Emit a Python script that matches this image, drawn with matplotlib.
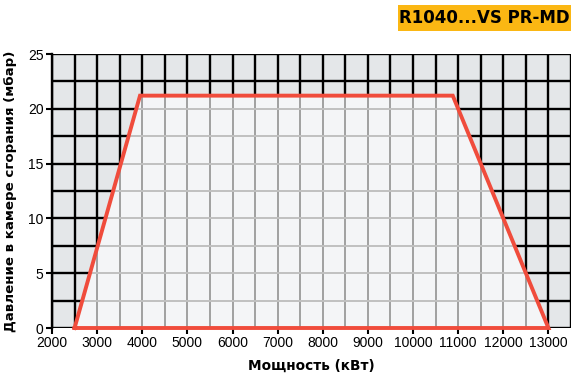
import numpy as np
import matplotlib.pyplot as plt
from matplotlib.patches import Polygon, Rectangle

# working field of the burner: power (kW) vs combustion chamber pressure (mbar)
power_kw = [2500, 3950, 10880, 13000]
pressure_mbar = [0, 21.2, 21.2, 0]

x_ticks = list(range(2000, 13001, 1000))
y_ticks = [0, 5, 10, 15, 20, 25]
title = "R1040...VS PR-MD"
xlabel = "Мощность (кВт)"
ylabel = "Давление в камере сгорания (мбар)"

fig = plt.figure(figsize=(5.71, 3.76), dpi=100)
ax = fig.add_axes([52 / 571, 48 / 376, (571 - 52) / 571, (328 - 54) / 376])
ax.set_facecolor("#e4e7e9")
ax.set_xlim(2000, 13500)
ax.set_ylim(0, 25)

xg = np.arange(2000, 13501, 500)
yg = np.arange(0, 25.1, 2.5)

# black grid over the whole area
for x in xg:
    ax.axvline(x, color="black", lw=1.7, zorder=1)
for y in yg:
    ax.axhline(y, color="black", lw=1.7, zorder=1)

# working field: light fill with grey grid clipped to it
poly = Polygon(list(zip(power_kw, pressure_mbar)), closed=True,
               facecolor="#f4f5f7", edgecolor="none", zorder=2)
ax.add_patch(poly)
for x in xg:
    ln = ax.axvline(x, color="#a0a0a0", lw=1.4, zorder=3)
    ln.set_clip_path(poly)
for y in yg:
    ln = ax.axhline(y, color="#c0c0c0", lw=1.4, zorder=3)
    ln.set_clip_path(poly)

ax.plot(power_kw + [power_kw[0]], pressure_mbar + [pressure_mbar[0]],
        color="#f04c3c", lw=2.8, solid_joinstyle="miter", zorder=4,
        clip_on=False)

for s in ["top", "right", "bottom"]:
    ax.spines[s].set_visible(False)
ax.spines["left"].set_linewidth(1.7)

ax.set_xticks(x_ticks)
ax.set_yticks(y_ticks)
ax.tick_params(axis="both", direction="out", length=4, width=1.5,
               labelsize=10, colors="black", pad=2)
for lab in ax.get_xticklabels() + ax.get_yticklabels():
    lab.set_family("Liberation Sans")

ax.set_xlabel(xlabel, fontsize=9.8, fontweight="bold", family="DejaVu Sans", labelpad=6)
ax.set_ylabel(ylabel, fontsize=9.6, fontweight="bold", family="DejaVu Sans", labelpad=8)

# model badge in the top-right corner
fig.patches.append(Rectangle((398 / 571, 1 - 31 / 376), 173 / 571, 26 / 376,
                             transform=fig.transFigure, facecolor="#fbb713",
                             edgecolor="none"))
fig.text(484 / 571, 1 - 18 / 376, title, ha="center", va="center",
         fontsize=12, fontweight="bold", family="DejaVu Sans", color="black")

fig.savefig("out.png", dpi=100)
